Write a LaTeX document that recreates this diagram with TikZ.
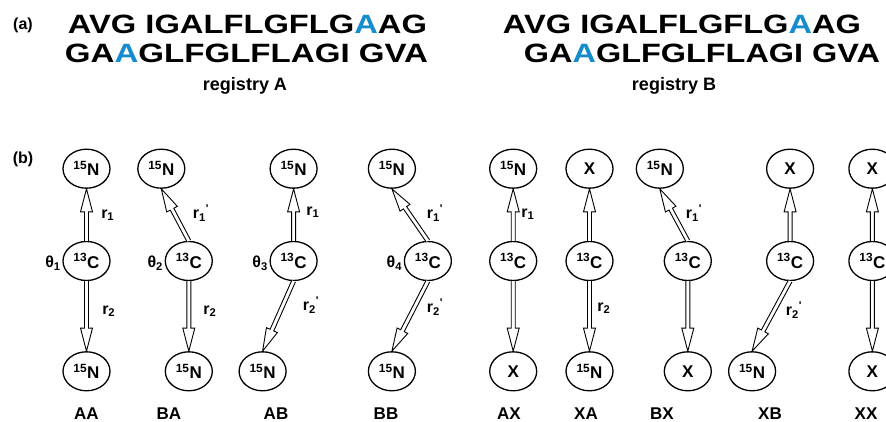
\documentclass[tikz,border=0pt]{standalone}
\usepackage{fontspec}
\setmainfont{Liberation Sans}
\usepackage{graphicx}
\usetikzlibrary{positioning,calc,shapes.geometric}
\definecolor{seqblue}{RGB}{20,140,205}
\newcommand{\hlres}[1]{\textcolor{seqblue}{#1}}
\newcommand{\iso}[2]{\textsuperscript{#1}#2}
\newcommand{\rdist}[2]{r\textsubscript{#1}\textsuperscript{#2}}
\newcommand{\prm}{\textquotesingle}
% double-line open arrow between two anchors
\newcommand{\bondarrow}[2]{%
  \path (#1) coordinate (bs) (#2) coordinate (be);
  \coordinate (bh) at ($(be)!23pt!(bs)$);
  \draw[bond] ($(bs)!2pt!90:(be)$) -- ($(bh)!2pt!90:(be)$) -- ($(bh)!6pt!90:(be)$) -- (be)
    -- ($(bh)!6pt!-90:(be)$) -- ($(bh)!2pt!-90:(be)$) -- ($(bs)!2pt!-90:(be)$);
}

\begin{document}
\begin{tikzpicture}[x=1pt,y=1pt,
  atom/.style={ellipse,draw,line width=1.3pt,minimum width=47pt,minimum height=39pt,
    inner sep=0pt,font=\bfseries\fontsize{17}{17}\selectfont},
  bond/.style={line width=0.9pt,line join=miter,fill=white},
  lab/.style={font=\bfseries\fontsize{16}{16}\selectfont,inner sep=0pt},
  tag/.style={font=\bfseries\fontsize{17}{17}\selectfont,inner sep=0pt,anchor=base},
  panel/.style={font=\bfseries\fontsize{16}{16}\selectfont,inner sep=0pt},
  seq/.style={inner sep=0pt,font=\bfseries}]
\useasboundingbox (0,0) rectangle (886,421);

% (a) registries
\node[panel] (pa) at (23,396) {(a)};
\node[seq] (a1) at (247.5,397) {\resizebox{359pt}{18.5pt}{AVG IGALFLGFLG\hlres{A}AG}};
\node[seq] (a2) at (246.5,368) {\resizebox{363pt}{18.5pt}{GA\hlres{A}GLFGLFLAGI GVA}};
\node[seq] (b1) at (682,397) {\resizebox{358pt}{18.5pt}{AVG IGALFLGFLG\hlres{A}AG}};
\node[seq] (b2) at (702,368) {\resizebox{356pt}{18.5pt}{GA\hlres{A}GLFGLFLAGI GVA}};
\node[font=\bfseries\fontsize{18}{18}\selectfont,inner sep=0pt,anchor=base] (regA) at (245,330) {registry A};
\node[font=\bfseries\fontsize{18}{18}\selectfont,inner sep=0pt,anchor=base] (regB) at (674,330) {registry B};

% (b) carbon row
\node[panel] (pb) at (23,262) {(b)};
\node[atom] (c1) at (86.5,160) {\iso{13}{C}};
\node[atom,right=54pt of c1] (c2) {\iso{13}{C}};
\node[atom,right=56.5pt of c2] (c3) {\iso{13}{C}};
\node[atom,right=86pt of c3] (c4) {\iso{13}{C}};
\node[atom,right=37pt of c4] (c5) {\iso{13}{C}};
\node[atom,right=28pt of c5] (c6) {\iso{13}{C}};
\node[atom,right=50pt of c6] (c7) {\iso{13}{C}};
\node[atom,right=54pt of c7] (c8) {\iso{13}{C}};
\node[atom,right=34pt of c8] (c9) {\iso{13}{C}};

% upper neighbours
\node[atom,above=52pt of c1] (t1) {\iso{15}{N}};
\node[atom,above=52pt of c2,xshift=-27.5pt] (t2) {\iso{15}{N}};
\node[atom,above=52pt of c3] (t3) {\iso{15}{N}};
\node[atom,above=52pt of c4,xshift=-36pt] (t4) {\iso{15}{N}};
\node[atom,above=52pt of c5] (t5) {\iso{15}{N}};
\node[atom,above=52pt of c6] (t6) {X};
\node[atom,above=52pt of c7,xshift=-28pt] (t7) {\iso{15}{N}};
\node[atom,above=52pt of c8] (t8) {X};
\node[atom,above=52pt of c9] (t9) {X};

% lower neighbours
\node[atom,below=70pt of c1] (d1) {\iso{15}{N}};
\node[atom,below=70pt of c2] (d2) {\iso{15}{N}};
\node[atom,below=70pt of c3,xshift=-31pt] (d3) {\iso{15}{N}};
\node[atom,below=70pt of c4,xshift=-36pt] (d4) {\iso{15}{N}};
\node[atom,below=70pt of c5] (d5) {X};
\node[atom,below=70pt of c6] (d6) {\iso{15}{N}};
\node[atom,below=70pt of c7] (d7) {X};
\node[atom,below=70pt of c8,xshift=-38pt] (d8) {\iso{15}{N}};
\node[atom,below=70pt of c9] (d9) {X};

\foreach \i in {1,...,9}{
  \bondarrow{c\i.north}{t\i.south}
  \bondarrow{c\i.south}{d\i.north}
}

% angles
\foreach \i in {1,...,4}
  \node[lab,anchor=east] (th\i) at ([xshift=-1.5pt,yshift=-2pt]c\i.west) {θ\textsubscript{\i}};

% distances
\node[lab] (ra1) at (108,206) {\rdist{1}{}};
\node[lab] (ra2) at (109,110) {\rdist{2}{}};
\node[lab] (rb1) at (201,208) {\rdist{1}{\prm}};
\node[lab] (rb2) at (210,110) {\rdist{2}{}};
\node[lab] (rc1) at (313,209) {\rdist{1}{}};
\node[lab] (rc2) at (311,116) {\rdist{2}{\prm}};
\node[lab] (rd1) at (435,208) {\rdist{1}{\prm}};
\node[lab] (rd2) at (435,114) {\rdist{2}{\prm}};
\node[lab] (re1) at (528,207) {\rdist{1}{}};
\node[lab] (rf2) at (604,113) {\rdist{2}{}};
\node[lab] (rg1) at (694,208) {\rdist{1}{\prm}};
\node[lab] (rh2) at (794,111) {\rdist{2}{\prm}};

% case names
\foreach \x/\nm in {86.5/AA,169/BA,276/AB,386/BB,509/AX,586/XA,662/BX,770/XB,866/XX}
  \node[tag] (lab-\nm) at (\x,2) {\nm};
\end{tikzpicture}
\end{document}
